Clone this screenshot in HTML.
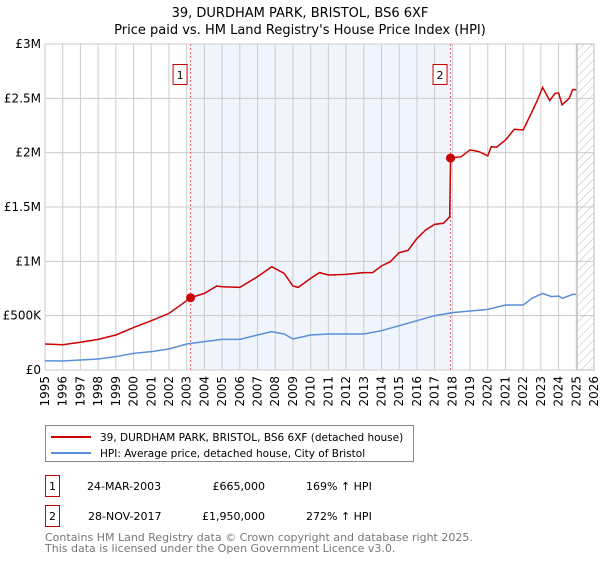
<!DOCTYPE html>
<html><head><meta charset="utf-8"><style>
body{margin:0;background:#fff;font-family:"DejaVu Sans","Liberation Sans",sans-serif;}
svg text{font-family:"DejaVu Sans","Liberation Sans",sans-serif;}
</style></head><body>
<svg width="600" height="560" viewBox="0 0 600 560">
<defs><pattern id="hatch" width="6" height="6" patternUnits="userSpaceOnUse" patternTransform="rotate(45)"><line x1="0" y1="0" x2="0" y2="6" stroke="#bbb" stroke-width="1"/></pattern></defs>
<text x="300" y="17" text-anchor="middle" font-size="13">39, DURDHAM PARK, BRISTOL, BS6 6XF</text>
<text x="300" y="34" text-anchor="middle" font-size="13">Price paid vs. HM Land Registry's House Price Index (HPI)</text>
<g id="plot"></g>
<g>
<rect x="45.5" y="425.5" width="368" height="36" fill="#fff" stroke="#888"/>
<line x1="51" y1="437" x2="91" y2="437" stroke="#cc0000" stroke-width="2"/>
<text x="100" y="441" font-size="10.5">39, DURDHAM PARK, BRISTOL, BS6 6XF (detached house)</text>
<line x1="51" y1="453" x2="91" y2="453" stroke="#5b8fd6" stroke-width="2"/>
<text x="100" y="457" font-size="10.5">HPI: Average price, detached house, City of Bristol</text>
</g>
<g>
<rect x="45.5" y="475.5" width="14" height="21" fill="#fff" stroke="#cc0000"/>
<text x="52.5" y="490" font-size="11" text-anchor="middle">1</text>
<text x="87" y="490" font-size="11">24-MAR-2003</text>
<text x="265" y="490" font-size="11" text-anchor="end">£665,000</text>
<text x="306" y="490" font-size="11">169% ↑ HPI</text>
</g>
<g>
<rect x="45.5" y="505.5" width="14" height="21" fill="#fff" stroke="#cc0000"/>
<text x="52.5" y="520" font-size="11" text-anchor="middle">2</text>
<text x="88" y="520" font-size="11">28-NOV-2017</text>
<text x="265" y="520" font-size="11" text-anchor="end">£1,950,000</text>
<text x="306" y="520" font-size="11">272% ↑ HPI</text>
</g>
<text x="45" y="541" font-size="11" fill="#777">Contains HM Land Registry data © Crown copyright and database right 2025.</text>
<text x="45" y="552" font-size="11" fill="#777">This data is licensed under the Open Government Licence v3.0.</text>
</svg>
<script>
const years=[1995,1996,1997,1998,1999,2000,2001,2002,2003,2004,2005,2006,2007,2008,2009,2010,2011,2012,2013,2014,2015,2016,2017,2018,2019,2020,2021,2022,2023,2024,2025,2026];
const yTicks=[0,500000,1000000,1500000,2000000,2500000,3000000];
const yTickLabels=["£0","£500K","£1M","£1.5M","£2M","£2.5M","£3M"];
const redT=[1995,1996,1997,1998,1999,2000,2001,2002,2003,2003.22,2004,2004.7,2005,2006,2007,2007.8,2008.5,2009,2009.3,2010,2010.5,2011,2012,2013,2013.5,2014,2014.5,2015,2015.5,2016,2016.5,2017,2017.5,2017.85,2017.9,2018,2018.5,2019,2019.5,2020,2020.2,2020.5,2021,2021.5,2022,2022.5,2022.8,2023.1,2023.5,2023.8,2024,2024.2,2024.6,2024.8,2025];
const redV=[239e3,233e3,255e3,282e3,322e3,390e3,454e3,521e3,638e3,665e3,705e3,773e3,767e3,760e3,859e3,951e3,890e3,773e3,760e3,843e3,896e3,874e3,880e3,896e3,896e3,957e3,997e3,1080e3,1100e3,1210e3,1290e3,1340e3,1350e3,1410e3,1950e3,1954e3,1963e3,2025e3,2010e3,1970e3,2055e3,2050e3,2117e3,2215e3,2209e3,2377e3,2480e3,2600e3,2480e3,2545e3,2550e3,2440e3,2500e3,2580e3,2580e3];
const blueT=[1995,1996,1997,1998,1999,2000,2001,2002,2003,2004,2005,2006,2007,2007.8,2008.5,2009,2010,2011,2012,2013,2014,2015,2016,2017,2018,2019,2020,2021,2022,2022.5,2023.1,2023.6,2024,2024.2,2024.8,2025];
const blueV=[86e3,83e3,92e3,101e3,123e3,153e3,169e3,193e3,239e3,261e3,282e3,282e3,322e3,353e3,331e3,285e3,322e3,331e3,331e3,331e3,362e3,408e3,454e3,500e3,528e3,543e3,558e3,598e3,598e3,660e3,705e3,675e3,681e3,660e3,696e3,696e3];
const saleT=[2003.22,2017.9];
const saleV=[665000,1950000];
const saleLabels=["1","2"];
const X0=45,X1=594,Y0=370,Y1=44,T0=1995,T1=2026,VMAX=3000000,forecastStart=2025.05;
const xs=t=>X0+(t-T0)/(T1-T0)*(X1-X0);
const ys=v=>Y0-v/VMAX*(Y0-Y1);
const NS="http://www.w3.org/2000/svg";
const g=document.getElementById('plot');
function mk(tag,attrs,parent){const e=document.createElementNS(NS,tag);for(const k in attrs)e.setAttribute(k,attrs[k]);(parent||g).appendChild(e);return e;}
let r=mk('rect',{x:xs(saleT[0]),y:Y1,width:xs(saleT[1])-xs(saleT[0]),height:Y0-Y1,fill:'#f0f4fd'});


years.forEach(y=>{const l=mk('line',{x1:xs(y),x2:xs(y),y1:Y1,y2:Y0,stroke:'#ccc','stroke-width':1});

});
yTicks.forEach((v,i)=>{const l=mk('line',{x1:X0,x2:X1,y1:ys(v),y2:ys(v),stroke:'#ccc','stroke-width':1});


const t=mk('text',{x:X0-4,y:ys(v)+4,'text-anchor':'end','font-size':12});t.textContent=yTickLabels[i];

});
let h=mk('rect',{x:xs(forecastStart),y:Y1,width:X1-xs(forecastStart),height:Y0-Y1,fill:'url(#hatch)',stroke:'#bbb'});


years.forEach(y=>{const t=mk('text',{x:0,y:0,'font-size':12,'text-anchor':'end',transform:`translate(${xs(y)+4},${Y0+6}) rotate(-90)`});t.textContent=y;

});
saleT.forEach((s,i)=>{const l=mk('line',{x1:xs(s),x2:xs(s),y1:Y1,y2:Y0,stroke:'#e06060','stroke-width':1,'stroke-dasharray':'2,2'});


const b=mk('rect',{x:xs(s)-17.5,y:64.5,width:14,height:20,fill:'#fff',stroke:'#cc0000'});


const t=mk('text',{x:xs(s)-10.5,y:79,'text-anchor':'middle','font-size':11});t.textContent=saleLabels[i];

});
const path=(T,V)=>T.map((t,i)=>(i?'L':'M')+xs(t).toFixed(1)+','+ys(V[i]).toFixed(1)).join('');
let bl=mk('path',{d:path(blueT,blueV),fill:'none',stroke:'#5b8fd6','stroke-width':1.5});


let rl=mk('path',{d:path(redT,redV),fill:'none',stroke:'#cc0000','stroke-width':1.5});


saleT.forEach((s,i)=>{const c=mk('circle',{cx:xs(s),cy:ys(saleV[i]),r:4.5,fill:'#cc0000'});

});
</script>
</body></html>
